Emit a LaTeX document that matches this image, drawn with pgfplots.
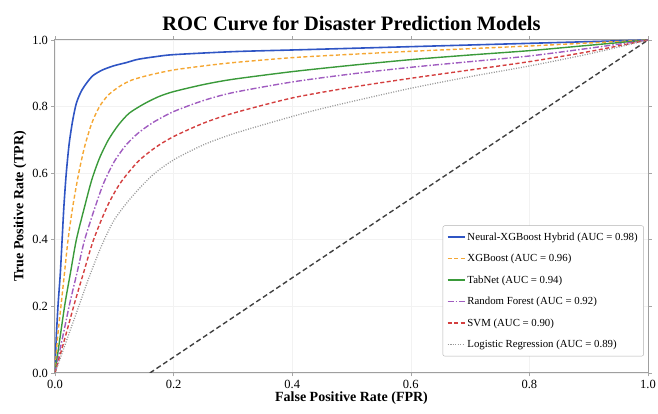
\documentclass[border=0pt]{standalone}
\usepackage{fontspec}
\setmainfont{Liberation Serif}
\usepackage{pgfplots}
\pgfplotsset{compat=1.18}
\usetikzlibrary{calc}

\definecolor{cblue}{HTML}{2F55C4}
\definecolor{corange}{HTML}{F5A733}
\definecolor{cgreen}{HTML}{3A9A3A}
\definecolor{cpurple}{HTML}{A05CC0}
\definecolor{cred}{HTML}{D43F3F}
\definecolor{cgray}{HTML}{999999}

\begin{document}
\begin{tikzpicture}
\begin{axis}[
    name=ax,
    scale only axis,
    width=593pt, height=333pt,
    xmin=0, xmax=1, ymin=0, ymax=1,
    xtick={0,0.2,...,1.0}, ytick={0,0.2,...,1.0},
    xticklabel style={/pgf/number format/.cd,fixed,fixed zerofill,precision=1},
    yticklabel style={/pgf/number format/.cd,fixed,fixed zerofill,precision=1},
    /pgf/number format/assume math mode=true,
    ticklabel style={font=\fontsize{12.5}{14}\selectfont},
    tick align=outside,
    major tick length=3.5pt,
    tick style={gray!70, line width=0.6pt},
    axis line style={gray!75, line width=1pt},
    grid=major,
    grid style={gray!10, line width=0.6pt},
    title={\textbf{ROC Curve for Disaster Prediction Models}},
    title style={font=\fontsize{20.5}{23}\selectfont, yshift=0pt},
    xlabel={\textbf{False Positive Rate (FPR)}},
    ylabel={\textbf{True Positive Rate (TPR)}},
    label style={font=\fontsize{14}{16}\selectfont},
    xlabel style={yshift=4pt},
    ylabel style={yshift=-1pt},
    legend cell align=left,
    legend style={at={(0.993,0.05)}, anchor=south east,
        font=\fontsize{10.8}{12}\selectfont,
        draw=gray!60, rounded corners=2pt, row sep=8.5pt,
        inner xsep=4pt, inner ysep=5pt},
    every axis plot/.append style={smooth, tension=0.45},
]
% random classifier line
\addplot[black!75, line width=1.4pt, dash pattern=on 5pt off 3pt, forget plot, sharp plot]
    coordinates {(0.16,0) (1,1)};

% Neural-XGBoost Hybrid
\addplot[cblue, line width=1.6pt] coordinates {
(0,0) (0.002,0.1) (0.005,0.2) (0.009,0.3) (0.012,0.4) (0.015,0.5) (0.019,0.6)
(0.024,0.69) (0.03,0.76) (0.036,0.81) (0.044,0.845) (0.053,0.87) (0.064,0.893)
(0.08,0.91) (0.1,0.923) (0.12,0.932) (0.14,0.942) (0.17,0.95) (0.2,0.956)
(0.3,0.965) (0.4,0.97) (0.5,0.975) (0.6,0.98) (0.7,0.985) (0.8,0.99) (0.9,0.995) (1,1)
};
\addlegendentry{Neural-XGBoost Hybrid (AUC = 0.98)}

% XGBoost
\addplot[corange, line width=1.4pt, dash pattern=on 4pt off 2.5pt] coordinates {
(0,0) (0.004,0.1) (0.01,0.2) (0.016,0.3) (0.022,0.4) (0.03,0.5) (0.04,0.6)
(0.05,0.68) (0.062,0.75) (0.075,0.8) (0.09,0.835) (0.11,0.862) (0.13,0.88)
(0.16,0.895) (0.2,0.91) (0.25,0.922) (0.3,0.932) (0.4,0.947) (0.5,0.957)
(0.6,0.966) (0.7,0.974) (0.8,0.982) (0.9,0.991) (1,1)
};
\addlegendentry{XGBoost (AUC = 0.96)}

% TabNet
\addplot[cgreen, line width=1.4pt] coordinates {
(0,0) (0.008,0.1) (0.017,0.21) (0.026,0.3) (0.036,0.4) (0.05,0.5) (0.062,0.58)
(0.075,0.645) (0.09,0.7) (0.107,0.745) (0.125,0.78) (0.15,0.808) (0.175,0.83)
(0.2,0.845) (0.25,0.866) (0.3,0.882) (0.4,0.905) (0.5,0.924) (0.6,0.941)
(0.7,0.955) (0.8,0.968) (0.9,0.984) (1,1)
};
\addlegendentry{TabNet (AUC = 0.94)}

% Random Forest
\addplot[cpurple, line width=1.4pt, dash pattern=on 6pt off 2pt on 1.5pt off 2pt] coordinates {
(0,0) (0.012,0.1) (0.025,0.21) (0.037,0.3) (0.05,0.4) (0.068,0.5) (0.082,0.57)
(0.1,0.635) (0.12,0.685) (0.14,0.72) (0.165,0.752) (0.2,0.785) (0.25,0.818)
(0.3,0.842) (0.4,0.874) (0.5,0.898) (0.6,0.918) (0.7,0.935) (0.8,0.952)
(0.9,0.975) (1,1)
};
\addlegendentry{Random Forest (AUC = 0.92)}

% SVM
\addplot[cred, line width=1.4pt, dash pattern=on 4pt off 2.5pt] coordinates {
(0,0) (0.016,0.1) (0.033,0.21) (0.048,0.3) (0.065,0.4) (0.088,0.5) (0.11,0.57)
(0.14,0.635) (0.17,0.678) (0.2,0.71) (0.25,0.75) (0.3,0.78) (0.4,0.826)
(0.5,0.858) (0.6,0.885) (0.7,0.91) (0.8,0.935) (0.9,0.965) (1,1)
};
\addlegendentry{SVM (AUC = 0.90)}

% Logistic Regression
\addplot[cgray, line width=1.3pt, dash pattern=on 1pt off 1.5pt] coordinates {
(0,0) (0.02,0.1) (0.04,0.2) (0.058,0.29) (0.078,0.38) (0.1,0.46) (0.13,0.53)
(0.165,0.595) (0.2,0.64) (0.25,0.685) (0.3,0.718) (0.36,0.75) (0.43,0.785)
(0.5,0.815) (0.6,0.855) (0.7,0.89) (0.8,0.922) (0.9,0.958) (1,1)
};
\addlegendentry{Logistic Regression (AUC = 0.89)}
\end{axis}
\pgfresetboundingbox
\path ($(ax.south west)+(-55pt,-41pt)$) rectangle ($(ax.north east)+(10pt,40pt)$);
\end{tikzpicture}
\end{document}
